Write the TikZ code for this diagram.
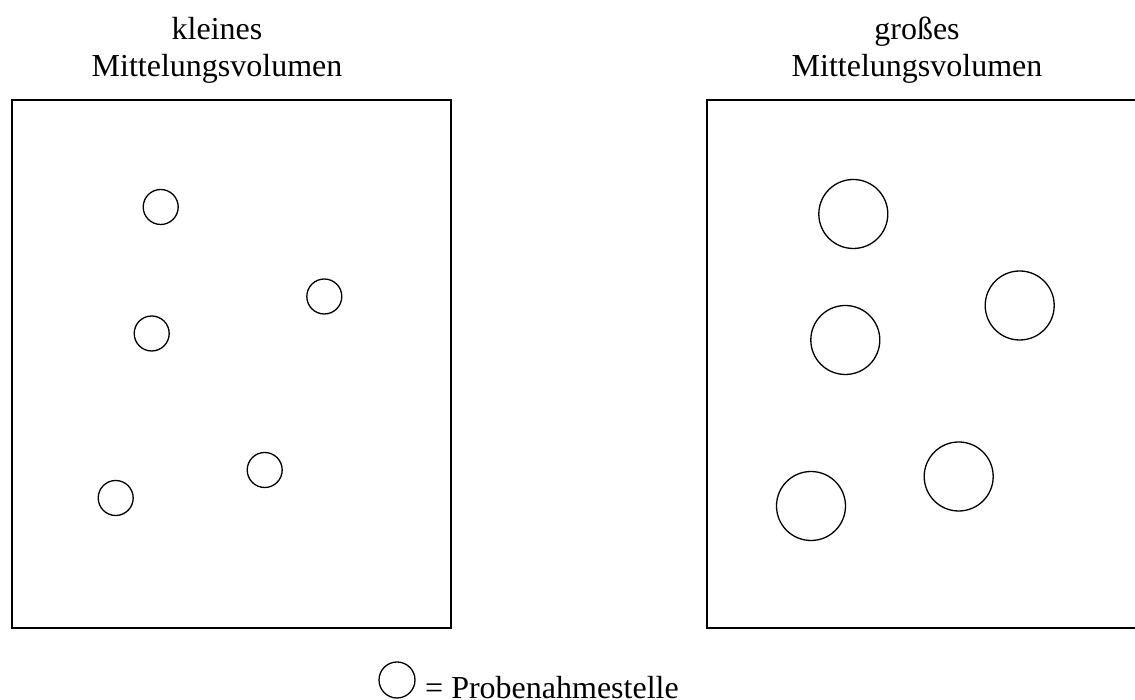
\documentclass[tikz,border=0pt]{standalone}
\usepackage{fontspec}
\setmainfont{Liberation Serif}
\begin{document}
\begin{tikzpicture}[x=1pt,y=1pt,
  frame/.style={draw=black,line width=1.3pt},
  smallsite/.style={circle,draw=black,line width=1.3pt,minimum size=35pt,inner sep=0pt},
  bigsite/.style={circle,draw=black,line width=1.3pt,minimum size=69pt,inner sep=0pt},
  lbl/.style={anchor=base,inner sep=0pt,font=\fontsize{32}{38}\selectfont}]
\useasboundingbox (0,0) rectangle (1135,700);
\clip (0,0) rectangle (1135,700);
% titles
\node[lbl] (t1a) at (217,660) {kleines};
\node[lbl] (t1b) at (217,623) {Mittelungsvolumen};
\node[lbl] (t2a) at (917,660) {gro\ss es};
\node[lbl] (t2b) at (917,623) {Mittelungsvolumen};
% boxes
\draw[frame] (12,600) rectangle (451,72);
\draw[frame] (707,600) rectangle (1160,72);
% small circles
\node[smallsite] (a1) at (160.7,493) {};
\node[smallsite] (a2) at (324.3,403.5) {};
\node[smallsite] (a3) at (151.7,366.5) {};
\node[smallsite] (a4) at (264.7,230) {};
\node[smallsite] (a5) at (115.7,202) {};
% large circles
\node[bigsite] (b1) at (853.3,486) {};
\node[bigsite] (b2) at (1019.7,394.5) {};
\node[bigsite] (b3) at (845.3,360) {};
\node[bigsite] (b4) at (958.7,223.5) {};
\node[bigsite] (b5) at (811,194) {};
% legend
\node[smallsite,minimum size=36pt] (leg) at (397,20) {};
\node[lbl,anchor=base west] (legtxt) at (425,1) {= Probenahmestelle};
\end{tikzpicture}
\end{document}
